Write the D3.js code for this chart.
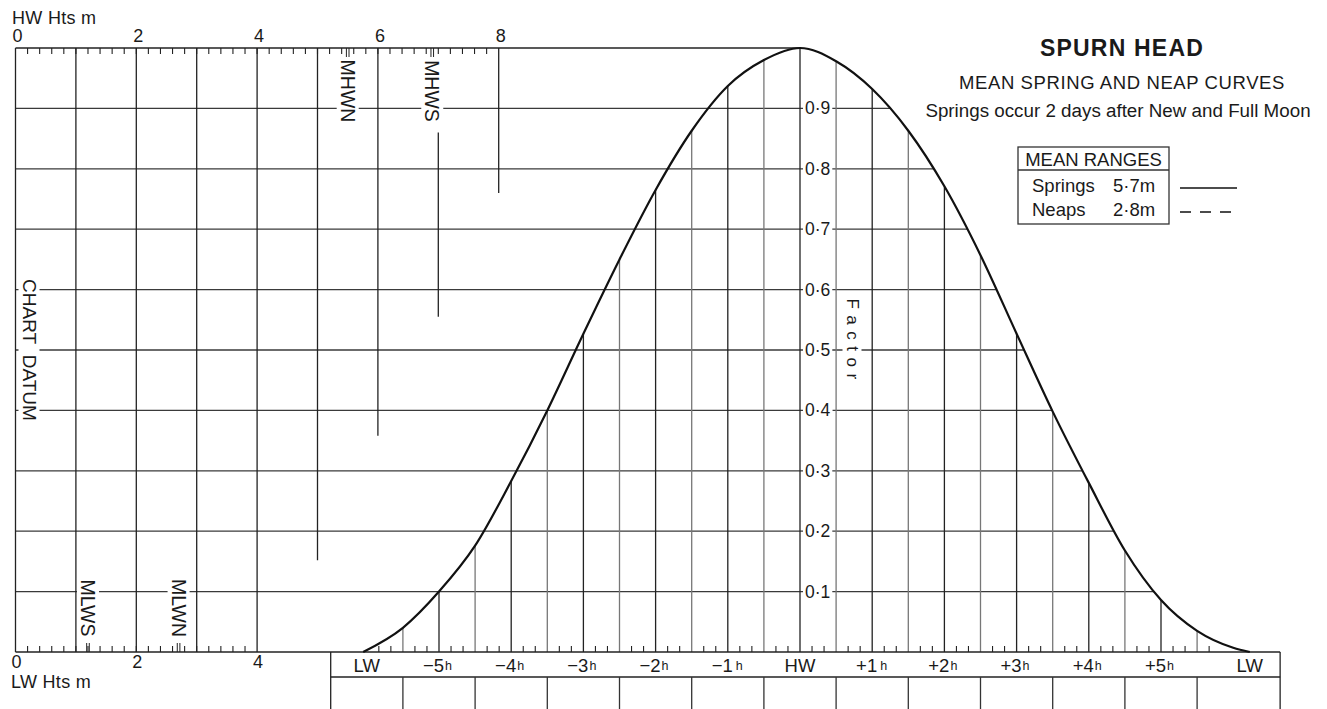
<!DOCTYPE html>
<html>
<head>
<meta charset="utf-8">
<script src="https://cdn.jsdelivr.net/npm/d3@7"></script>
<style>
  body { margin: 0; background: #fff; }
  svg { display: block; font-family: "Liberation Sans", Arial, Helvetica, sans-serif; }
</style>
</head>
<body>
<div id="chart"></div>
<script>
// Spring curve: hours from HW and factor
const curveHours   = [-6.05, -5.5, -5, -4.5, -4, -3.5, -3, -2.5, -2, -1.5, -1, -0.5, 0,
                      0.5, 1, 1.5, 2, 2.5, 3, 3.5, 4, 4.5, 5, 5.5, 6, 6.23];
const curveFactors = [0, 0.04, 0.10, 0.176, 0.283, 0.40, 0.527, 0.65, 0.765, 0.863, 0.937, 0.98, 1.0,
                      0.978, 0.932, 0.863, 0.771, 0.657, 0.527, 0.398, 0.28, 0.168, 0.086, 0.035, 0.007, 0];

// factor grid
const factorTicks = [0.1, 0.2, 0.3, 0.4, 0.5, 0.6, 0.7, 0.8, 0.9];
const factorLabels = ["0·1", "0·2", "0·3", "0·4", "0·5", "0·6", "0·7", "0·8", "0·9"];

// height grid (metres)
const hwTickLabels = [0, 2, 4, 6, 8];
const lwTickLabels = [0, 2, 4];
const gridMetres = [1, 2, 3, 4, 5, 6, 7, 8];
const gridTopFactor = [1, 1, 1, 1, 1, 1, 0.86, 1];
const gridBottomFactor = [0, 0, 0, 0, 0.152, 0.358, 0.555, 0.76];
const hwMarkNames = ["MHWN", "MHWS"];
const hwMarkHeights = [5.5, 6.9];
const lwMarkNames = ["MLWS", "MLWN"];
const lwMarkHeights = [1.2, 2.7];

// time axis
const hourPos = [-6, -5, -4, -3, -2, -1, 0, 1, 2, 3, 4, 5, 6.23];
const hourText = ["LW", "−5", "−4", "−3", "−2", "−1", "HW", "+1", "+2", "+3", "+4", "+5", "LW"];
const halfHours = [-5.5, -5, -4.5, -4, -3.5, -3, -2.5, -2, -1.5, -1, -0.5, 0,
                   0.5, 1, 1.5, 2, 2.5, 3, 3.5, 4, 4.5, 5, 5.5];
const boxDividers = [-5.5, -4.5, -3.5, -2.5, -1.5, -0.5, 0.5, 1.5, 2.5, 3.5, 4.5, 5.5];
const boxExtent = [-6.5, 6.65];

// legend
const rangeNames = ["Springs", "Neaps"];
const rangeValues = ["5·7m", "2·8m"];

const width = 1327, height = 709;
const ink = "#1a1a1a";

const svg = d3.select("#chart").append("svg")
    .attr("width", width)
    .attr("height", height);

svg.append("rect").attr("width", width).attr("height", height).attr("fill", "#fff");

// scales
const yF = d3.scaleLinear().domain([0, 1]).range([652, 48]);
const xM = d3.scaleLinear().domain([0, 10]).range([15.5, 619.5]);
const xT = d3.scaleLinear().domain([-6, 6]).range([800 - 6 * 72.2, 800 + 6 * 72.2]);

const hwX = xT(0);
const baseY = yF(0);
const topY = yF(1);

const gH = svg.append("g");
const gV = svg.append("g");
const gAxis = svg.append("g");
const gLabels = svg.append("g");
const gCurve = svg.append("g");

// curve first, so grid lines can be clipped to it
const points = curveHours.map((h, i) => [h, curveFactors[i]]);
const line = d3.line()
    .x(d => xT(d[0]))
    .y(d => yF(d[1]))
    .curve(d3.curveMonotoneX);

const curvePath = gCurve.append("path")
    .attr("d", line(points))
    .attr("fill", "none")
    .attr("stroke", "#111")
    .attr("stroke-width", 2.2);

// sample the falling side of the curve
const pnode = curvePath.node();
const total = pnode.getTotalLength();
const samples = [];
for (let l = 0; l <= total; l += 0.5) samples.push(pnode.getPointAtLength(l));
function fallingX(y) {
    const p = samples.find(s => s.x > hwX && s.y >= y);
    return p ? p.x : xT(6.2);
}

// horizontal factor lines
factorTicks.forEach(f => {
    const y = yF(f);
    gH.append("line")
        .attr("x1", xM(0)).attr("x2", fallingX(y))
        .attr("y1", y).attr("y2", y)
        .attr("stroke", "#3a3a3a").attr("stroke-width", 1.3);
});

// height grid verticals
gridMetres.forEach((m, i) => {
    gV.append("line")
        .attr("x1", xM(m)).attr("x2", xM(m))
        .attr("y1", yF(gridTopFactor[i])).attr("y2", yF(gridBottomFactor[i]))
        .attr("stroke", "#222").attr("stroke-width", 1.3);
});

// half-hour verticals up to the curve
halfHours.forEach(h => {
    const i = curveHours.indexOf(h);
    const isHour = Number.isInteger(h);
    gV.append("line")
        .attr("x1", xT(h)).attr("x2", xT(h))
        .attr("y1", yF(curveFactors[i])).attr("y2", baseY)
        .attr("stroke", isHour ? "#222" : "#777").attr("stroke-width", 1.3);
});

// axes frame
gAxis.append("line").attr("x1", xM(0)).attr("x2", hwX).attr("y1", topY).attr("y2", topY)
    .attr("stroke", "#222").attr("stroke-width", 1.3);
gAxis.append("line").attr("x1", xM(0)).attr("x2", xM(0)).attr("y1", topY).attr("y2", baseY)
    .attr("stroke", "#222").attr("stroke-width", 1.3);
gAxis.append("line").attr("x1", xM(0)).attr("x2", xT(boxExtent[1])).attr("y1", baseY).attr("y2", baseY)
    .attr("stroke", "#222").attr("stroke-width", 1.3);

// top (HW) ticks every 0.2 m, bottom (LW) ticks every 0.2 m
d3.range(1, 40).forEach(k => {
    const x = xM(k * 0.2);
    gAxis.append("line").attr("x1", x).attr("x2", x).attr("y1", topY).attr("y2", topY + 6)
        .attr("stroke", "#222").attr("stroke-width", 1.1);
});
d3.range(1, 20).forEach(k => {
    const x = xM(k * 0.2);
    gAxis.append("line").attr("x1", x).attr("x2", x).attr("y1", baseY).attr("y2", baseY - 6)
        .attr("stroke", "#222").attr("stroke-width", 1.1);
});
hwMarkHeights.forEach(m => {
    [-1.3, 1.3].forEach(dx => {
        gAxis.append("line").attr("x1", xM(m) + dx).attr("x2", xM(m) + dx)
            .attr("y1", topY).attr("y2", topY + 9)
            .attr("stroke", "#222").attr("stroke-width", 1);
    });
});
lwMarkHeights.forEach(m => {
    [-1.3, 1.3].forEach(dx => {
        gAxis.append("line").attr("x1", xM(m) + dx).attr("x2", xM(m) + dx)
            .attr("y1", baseY).attr("y2", baseY - 9)
            .attr("stroke", "#222").attr("stroke-width", 1);
    });
});

// time ticks every 10 minutes
d3.range(-35, 35).forEach(k => {
    if (k % 3 === 0) return;
    const h = k / 6;
    gAxis.append("line").attr("x1", xT(h)).attr("x2", xT(h)).attr("y1", baseY).attr("y2", baseY - 6)
        .attr("stroke", "#222").attr("stroke-width", 1.1);
});

// height tick labels
hwTickLabels.forEach(m => {
    gAxis.append("text").attr("x", xM(m) + 2).attr("y", 42)
        .attr("text-anchor", "middle").attr("font-size", 18).attr("fill", ink).text(m);
});
lwTickLabels.forEach(m => {
    gAxis.append("text").attr("x", xM(m) + 1).attr("y", 668)
        .attr("text-anchor", "middle").attr("font-size", 18).attr("fill", ink).text(m);
});
gAxis.append("text").attr("x", 12).attr("y", 24).attr("font-size", 18).attr("letter-spacing", 0.3)
    .attr("fill", ink).text("HW Hts m");
gAxis.append("text").attr("x", 11).attr("y", 688).attr("font-size", 18).attr("letter-spacing", 0.3)
    .attr("fill", ink).text("LW Hts m");

// time box
const boxL = xT(boxExtent[0]), boxR = xT(boxExtent[1]);
[boxL, boxR].forEach(x => {
    gAxis.append("line").attr("x1", x).attr("x2", x).attr("y1", baseY).attr("y2", 720)
        .attr("stroke", "#222").attr("stroke-width", 1.3);
});
gAxis.append("line").attr("x1", boxL).attr("x2", boxR).attr("y1", 677).attr("y2", 677)
    .attr("stroke", "#222").attr("stroke-width", 1.3);
boxDividers.forEach(h => {
    gAxis.append("line").attr("x1", xT(h)).attr("x2", xT(h)).attr("y1", 677).attr("y2", 720)
        .attr("stroke", "#333").attr("stroke-width", 1.3);
});

hourPos.forEach((h, i) => {
    const x = xT(h);
    const t = hourText[i];
    if (t === "LW" || t === "HW") {
        gAxis.append("text").attr("x", x).attr("y", 672).attr("text-anchor", "middle")
            .attr("font-size", 18.5).attr("fill", ink).text(t);
    } else {
        gAxis.append("text").attr("x", x + 5).attr("y", 672).attr("text-anchor", "end")
            .attr("font-size", 18.5).attr("fill", ink).text(t);
        gAxis.append("text").attr("x", x + (t.endsWith("1") ? 8 : 6)).attr("y", 670)
            .attr("font-size", 12.5).attr("fill", ink).text("h");
    }
});

// labels that break the grid lines
function gapLabel(x, y, text, opts) {
    const g = gLabels.append("g")
        .attr("transform", `translate(${x},${y}) rotate(${opts.rotate || 0})`);
    const t = g.append("text")
        .attr("text-anchor", opts.anchor || "middle")
        .attr("dominant-baseline", "central")
        .attr("font-size", opts.size)
        .attr("letter-spacing", opts.spacing || 0)
        .attr("fill", ink)
        .text(text);
    const b = t.node().getBBox();
    const px = opts.padX || 0, py = opts.padY || 0;
    g.insert("rect", "text")
        .attr("x", b.x - px).attr("y", b.y - py)
        .attr("width", b.width + 2 * px).attr("height", b.height + 2 * py)
        .attr("fill", "#fff");
}

hwMarkHeights.forEach((m, i) => {
    gapLabel(xM(m), 91, hwMarkNames[i], { rotate: 90, size: 19.5, padX: 2, padY: 0 });
});
lwMarkHeights.forEach((m, i) => {
    gapLabel(xM(m), 608, lwMarkNames[i], { rotate: 90, size: 19.5, padX: 2, padY: 0 });
});
gapLabel(29, 350, "CHART\u00a0\u00a0DATUM", { rotate: 90, size: 19, padX: 2, padY: 0 });
gapLabel(852, 342, "Factor", { rotate: 90, size: 17, spacing: 6.5, padX: 2, padY: 0 });

factorTicks.forEach((f, i) => {
    gapLabel(805, yF(f), factorLabels[i], { anchor: "start", size: 17.5, padX: 2, padY: -2 });
});

// title block
const title = svg.append("g").attr("fill", ink);
title.append("text").attr("x", 1122).attr("y", 56).attr("text-anchor", "middle")
    .attr("font-size", 23).attr("font-weight", "bold").attr("letter-spacing", 1.2).text("SPURN HEAD");
title.append("text").attr("x", 1122).attr("y", 89).attr("text-anchor", "middle")
    .attr("font-size", 18.5).attr("letter-spacing", 0.6).text("MEAN SPRING AND NEAP CURVES");
title.append("text").attr("x", 1118).attr("y", 117).attr("text-anchor", "middle")
    .attr("font-size", 18.8).text("Springs occur 2 days after New and Full Moon");

// legend box
const lg = svg.append("g");
lg.append("rect").attr("x", 1018).attr("y", 147).attr("width", 151).attr("height", 77)
    .attr("fill", "#fff").attr("stroke", "#333").attr("stroke-width", 1.3);
lg.append("line").attr("x1", 1018).attr("x2", 1169).attr("y1", 170).attr("y2", 170)
    .attr("stroke", "#333").attr("stroke-width", 1.3);
lg.append("text").attr("x", 1093.5).attr("y", 166).attr("text-anchor", "middle")
    .attr("font-size", 18.5).attr("fill", ink).text("MEAN RANGES");
rangeNames.forEach((n, i) => {
    const y = 192 + i * 24;
    lg.append("text").attr("x", 1032).attr("y", y).attr("font-size", 18.5).attr("fill", ink).text(n);
    lg.append("text").attr("x", 1113).attr("y", y).attr("font-size", 18.5).attr("fill", ink).text(rangeValues[i]);
    lg.append("line").attr("x1", 1180).attr("x2", 1237).attr("y1", y - 4).attr("y2", y - 4)
        .attr("stroke", "#111").attr("stroke-width", 1.6)
        .attr("stroke-dasharray", i === 0 ? null : "11,9");
});
</script>
</body>
</html>
